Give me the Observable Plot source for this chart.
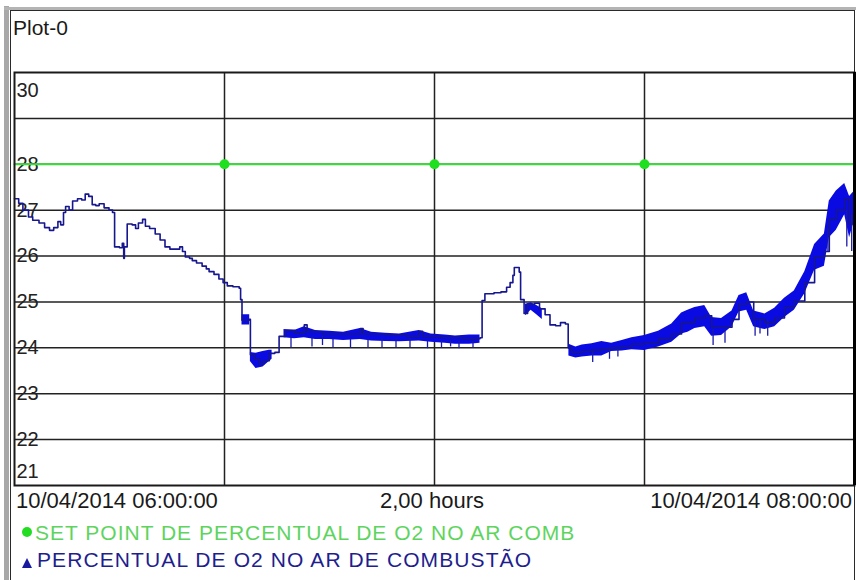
<!DOCTYPE html>
<html>
<head>
<meta charset="utf-8">
<script src="https://cdn.jsdelivr.net/npm/d3@7"></script>
<script src="https://cdn.jsdelivr.net/npm/@observablehq/plot@0.6"></script>
<style>
  html, body { margin: 0; padding: 0; background: #fff; }
  body { width: 856px; height: 580px; position: relative; overflow: hidden;
         font-family: "Liberation Sans", Arial, sans-serif; color: #1a1a1a; }
  .abs { position: absolute; white-space: nowrap; line-height: 1; }
  #graybarL { left: 4px; top: 6px; width: 5px; height: 574px; background: #a8a8a8; }
  #graybarT { left: 4px; top: 7px; width: 852px; height: 3px; background: #b4b4b4; }
  #frame { left: 10px; top: 10px; width: 843px; height: 580px; border: 1.5px solid #2a2a2a; border-bottom: none; }
  #title { left: 13px; top: 17px; font-size: 21px; }
  #chart { left: 0; top: 60px; }
  .xl { top: 490px; font-size: 22px; }
  #leg1 { left: 35px; top: 522px; font-size: 21px; color: #5ed45e; letter-spacing: 1px; }
  #leg2 { left: 37px; top: 549px; font-size: 21px; color: #1e1e8e; letter-spacing: 1.1px; }
  #dot { left: 22px; top: 527px; width: 10px; height: 10px; border-radius: 50%; background: #22dd22; }
  #tri { left: 22px; top: 558px; width: 0; height: 0; border-left: 5px solid transparent; border-right: 5px solid transparent; border-bottom: 10px solid #1a1aa0; }
</style>
</head>
<body>
<div class="abs" id="graybarL"></div>
<div class="abs" id="graybarT"></div>
<div class="abs" id="frame"></div>
<div class="abs" id="title">Plot-0</div>
<div class="abs" id="chart"></div>
<div class="abs xl" id="xl0"></div>
<div class="abs xl" id="xl1"></div>
<div class="abs xl" id="xl2"></div>
<div class="abs" id="dot"></div>
<div class="abs" id="leg1"></div>
<div class="abs" id="tri"></div>
<div class="abs" id="leg2"></div>
<script>
// ---------- data (x = minutes after 10/04/2014 06:00:00) ----------
const titleText = "Plot-0";
const xLabelLeft = "10/04/2014 06:00:00";
const xLabelMid = "2,00 hours";
const xLabelRight = "10/04/2014 08:00:00";
const seriesSetPoint = "SET POINT DE PERCENTUAL DE O2 NO AR COMB";
const seriesO2 = "PERCENTUAL DE O2 NO AR DE COMBUSTÃO";

const xDomain = [0, 120];
const yDomain = [21, 30];
const xGrid = [30, 60, 90];
const yGrid = [22, 23, 24, 25, 26, 27, 28, 29];
const yLabels = [30, 28, 27, 26, 25, 24, 23, 22, 21];

// set point series
const spMin = [0, 30, 60, 90, 120];
const spVal = [28, 28, 28, 28, 28];
const spDotMin = [30, 60, 90];

// O2 main trace
const o2Min = [0, 0.6, 1.2, 2.0, 2.6, 3.5, 4.3, 5.0, 5.6, 6.2, 6.6, 7.0, 7.3, 7.8, 8.3, 9.0, 9.6, 10.1, 10.6, 11.1,
  11.6, 12.1, 12.8, 13.5, 14.0, 14.3, 15.0, 15.4, 15.6, 15.7, 16.1, 16.8, 17.3, 17.7, 18.3, 18.7, 19.3, 20.1, 20.8, 21.5,
  22.2, 23.0, 23.6, 24.0, 24.4, 25.0, 25.4, 26.0, 26.8, 27.4, 27.8, 28.5, 29.2, 29.8, 30.4, 31.2, 32.1, 32.3, 32.5, 33.5,
  33.7, 34.3, 35.0, 35.6, 36.4, 37.2, 37.8, 38.7, 40.0, 41.4, 41.8, 44.0, 47.0, 49.4, 49.8, 53.0, 56.0, 57.8, 58.3, 61.0,
  64.0, 66.5, 66.8, 67.2, 68.5, 69.5, 70.3, 70.8, 71.2, 71.4, 72.1, 72.3, 72.8, 73.3, 74.3, 75.0, 75.8, 76.5, 77.3, 78.0,
  78.7, 79.1, 79.6, 81.1, 82.5, 83.9, 85.3, 86.8, 88.2, 90.0, 92.0, 93.9, 95.3, 97.2, 98.6, 99.6, 101.0, 102.5, 103.5, 104.6,
  105.6, 107.2, 108.6, 110.0, 111.4, 112.9, 114.3, 115.7, 116.4, 117.4, 118.6, 119.3, 120];
const o2Val = [27.25, 27.15, 27.0, 26.85, 26.78, 26.72, 26.62, 26.56, 26.62, 26.75, 26.68, 26.95, 27.08, 27.0, 27.2, 27.25, 27.22, 27.35, 27.3, 27.12,
  27.1, 27.14, 27.05, 27.0, 26.95, 26.2, 26.18, 26.28, 25.95, 26.2, 26.7, 26.68, 26.6, 26.72, 26.8, 26.65, 26.6, 26.48, 26.35, 26.2,
  26.15, 26.15, 26.2, 26.1, 25.98, 25.95, 25.9, 25.85, 25.78, 25.72, 25.66, 25.6, 25.5, 25.42, 25.35, 25.33, 25.3, 25.05, 24.6, 24.62,
  23.85, 23.75, 23.65, 23.72, 23.88, 23.9, 24.25, 24.38, 24.32, 24.5, 24.35, 24.3, 24.3, 24.42, 24.3, 24.28, 24.25, 24.36, 24.25, 24.22,
  24.2, 24.22, 25.03, 25.18, 25.2, 25.22, 25.32, 25.42, 25.58, 25.75, 25.65, 25.05, 24.75, 24.95, 24.97, 24.85, 24.72, 24.5, 24.48, 24.55,
  24.52, 24.0, 23.9, 23.92, 23.95, 23.98, 24.0, 24.03, 24.08, 24.1, 24.2, 24.3, 24.55, 24.65, 24.7, 24.45, 24.45, 24.62, 24.95, 25.0,
  24.62, 24.55, 24.65, 24.88, 25.02, 25.42, 25.98, 26.1, 26.8, 27.0, 27.25, 26.7, 27.1];

// dense noise envelope of the O2 trace (null = gap)
const bandMin = [32.5, 33.6, 33.65,
  33.7, 34.5, 35.5, 36.4, 36.8, 36.85,
  38.5, 40, 41.4, 43, 45, 47, 49.4, 51, 53, 55, 57.8, 59.5, 61.5, 63, 65, 66.5, 66.55,
  73.0, 73.8, 74.6, 75.4, 75.45,
  79.2, 80.2, 81.1, 82.5, 83.9, 85.3, 86.8, 88.2, 90.0, 92.0, 93.9, 95.3, 96.2, 97.2, 98.6, 99.6, 101.0, 102.5, 103.5, 104.6,
  105.6, 107.2, 108.6, 110.0, 111.4, 112.9, 114.3, 115.7, 116.4, 117.4, 118.6, 119.3, 120];
const bandLo = [24.5, 24.5, null,
  23.7, 23.55, 23.58, 23.7, 23.75, null,
  24.22, 24.2, 24.22, 24.18, 24.18, 24.16, 24.18, 24.15, 24.14, 24.13, 24.15, 24.12, 24.1, 24.08, 24.08, 24.1, null,
  24.7, 24.82, 24.72, 24.62, null,
  23.82, 23.78, 23.8, 23.82, 23.82, 23.92, 23.93, 23.96, 23.94, 24.02, 24.12, 24.3, 24.34, 24.42, 24.46, 24.25, 24.27, 24.46, 24.78, 24.82,
  24.46, 24.4, 24.46, 24.66, 24.82, 25.18, 25.69, 25.78, 26.4, 26.56, 26.9, 26.4, 26.78];
const bandHi = [24.72, 24.72, null,
  23.9, 23.88, 23.92, 23.95, 23.95, null,
  24.4, 24.38, 24.46, 24.38, 24.36, 24.34, 24.42, 24.34, 24.32, 24.3, 24.38, 24.3, 24.28, 24.26, 24.28, 24.28, null,
  24.95, 24.98, 24.92, 24.85, null,
  24.08, 24.02, 24.06, 24.09, 24.14, 24.1, 24.16, 24.22, 24.27, 24.36, 24.52, 24.76, 24.82, 24.88, 24.92, 24.66, 24.64, 24.8, 25.14, 25.2,
  24.8, 24.74, 24.86, 25.08, 25.24, 25.66, 26.25, 26.48, 27.2, 27.42, 27.58, 27.3, 27.42];

// thin downward spikes of the O2 trace
const spikeMin = [39.5, 42.5, 44.0, 45.5, 48.0, 50.5, 52.5, 54.5, 56.5, 59.0, 61.0, 62.3, 63.5, 65.5,
  82.6, 85.0, 86.2, 99.8, 101.5, 105.8, 106.5, 107.6, 116.2, 118.9, 119.6];
const spikeLo = [24.0, 24.02, 24.05, 24.0, 24.0, 24.0, 24.0, 24.0, 24.0, 23.98, 24.0, 24.02, 23.98, 24.0,
  23.68, 23.75, 23.8, 24.05, 24.1, 24.25, 24.3, 24.25, 26.1, 26.2, 26.1];
const spikeHi = [24.25, 24.25, 24.25, 24.2, 24.2, 24.2, 24.2, 24.2, 24.2, 24.15, 24.15, 24.15, 24.15, 24.15,
  23.95, 24.0, 24.0, 24.4, 24.4, 24.6, 24.6, 24.6, 26.6, 27.0, 26.9];

// ---------- chart ----------
const o2Idx = d3.range(o2Min.length);
const bandIdx = d3.range(bandMin.length);
const spikeIdx = d3.range(spikeMin.length);
const spIdx = d3.range(spMin.length);

const chart = Plot.plot({
  width: 856,
  height: 430,
  marginLeft: 14,
  marginRight: 2,
  marginTop: 12,
  marginBottom: 5,
  style: { fontFamily: "'Liberation Sans', Arial, sans-serif", background: "transparent", color: "#222" },
  x: { domain: xDomain, axis: null },
  y: { domain: yDomain, axis: null },
  marks: [
    Plot.gridY(yGrid, { stroke: "#222", strokeOpacity: 1, strokeWidth: 1.5 }),
    Plot.gridX(xGrid, { stroke: "#222", strokeOpacity: 1, strokeWidth: 1.5 }),
    Plot.text(yLabels.filter(d => d !== 30 && d !== 21), { x: xDomain[0], y: d => d, text: d => String(d), textAnchor: "start", dx: 2, fontSize: 20, fill: "#222" }),
    Plot.text(yLabels.filter(d => d === 30), { x: xDomain[0], y: d => d, text: d => String(d), textAnchor: "start", dx: 2, dy: 18, fontSize: 20, fill: "#222" }),
    Plot.text(yLabels.filter(d => d === 21), { x: xDomain[0], y: d => d, text: d => String(d), textAnchor: "start", dx: 2, dy: -14, fontSize: 20, fill: "#222" }),
    Plot.lineY(spIdx, { x: i => spMin[i], y: i => spVal[i], stroke: "#3ddc3d", strokeWidth: 2 }),
    Plot.dot(spDotMin, { x: d => d, y: 28, r: 5, fill: "#1ee01e", stroke: "none" }),
    Plot.areaY(bandIdx, { x: i => bandMin[i], y1: i => bandLo[i], y2: i => bandHi[i], fill: "#0a0ae2", curve: "linear" }),
    Plot.ruleX(spikeIdx, { x: i => spikeMin[i], y1: i => spikeLo[i], y2: i => spikeHi[i], stroke: "#1a1aa8", strokeWidth: 1.3 }),
    Plot.lineY(o2Idx, { x: i => o2Min[i], y: i => o2Val[i], curve: "step-after", stroke: "#16168f", strokeWidth: 1.6 }),
    Plot.frame({ stroke: "#1a1a1a", strokeWidth: 2 }),
    Plot.ruleX([xDomain[1]], { stroke: "#000", strokeWidth: 3 })
  ]
});
document.getElementById("chart").appendChild(chart);

document.getElementById("title").textContent = titleText;
const xl0 = document.getElementById("xl0");
xl0.textContent = xLabelLeft; xl0.style.left = "16px";
const xl1 = document.getElementById("xl1");
xl1.textContent = xLabelMid; xl1.style.left = "432px"; xl1.style.transform = "translateX(-50%)";
const xl2 = document.getElementById("xl2");
xl2.textContent = xLabelRight; xl2.style.right = "4px";
document.getElementById("leg1").textContent = seriesSetPoint;
document.getElementById("leg2").textContent = seriesO2;
</script>
</body>
</html>
